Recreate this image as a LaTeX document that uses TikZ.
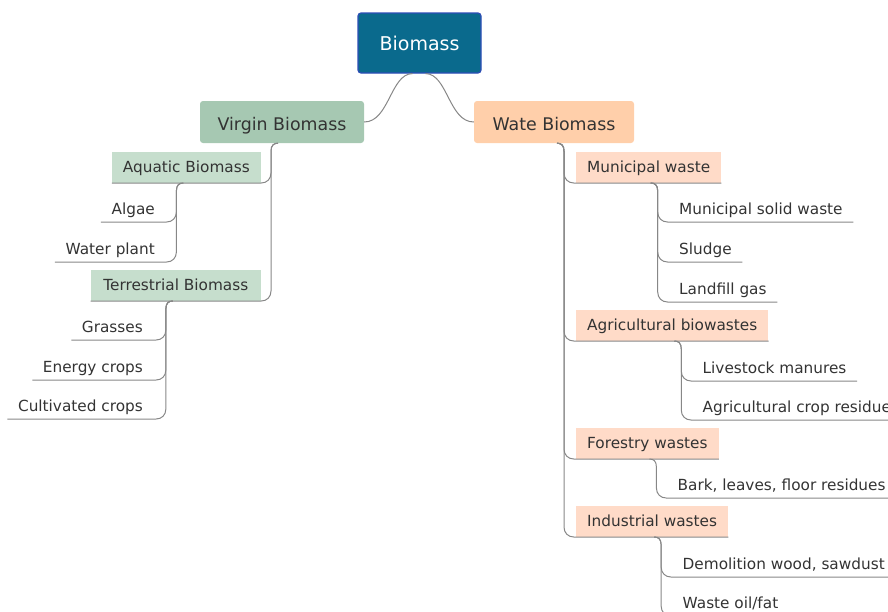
\documentclass[tikz,border=0pt]{standalone}
\usepackage{fontspec}
\setmainfont{DejaVu Sans}
\usetikzlibrary{calc}

\definecolor{rootfill}{HTML}{0A6A8D}
\definecolor{rootedge}{HTML}{2C4DB5}
\definecolor{greenmain}{HTML}{A6C8B2}
\definecolor{greensub}{HTML}{C6DECD}
\definecolor{peachmain}{HTML}{FFCFAA}
\definecolor{peachsub}{HTML}{FFDBC8}
\definecolor{ink}{HTML}{333333}
\definecolor{linegray}{HTML}{878787}

\begin{document}
\begin{tikzpicture}[x=1pt, y=-1pt,
  link/.style={draw=linegray, line width=1pt},
  rootbox/.style={draw=rootedge, line width=1.2pt, fill=rootfill, rounded corners=3pt,
    minimum width=123pt, minimum height=60pt, inner sep=0pt, text=white,
    font=\fontsize{19}{22}\selectfont},
  topic/.style={rounded corners=3pt, minimum height=42pt, inner sep=0pt,
    text height=17pt, text depth=0pt, text=ink,
    font=\fontsize{17.4}{20}\selectfont},
  subtopic/.style={inner xsep=11pt, inner ysep=8pt, text height=13pt, text depth=2pt,
    text=ink, font=\fontsize{15.3}{18}\selectfont},
  leaf/.style={inner xsep=10.5pt, inner ysep=4.5pt, text height=12.5pt, text depth=2.5pt,
    text=ink, font=\fontsize{15.3}{18}\selectfont},
  % branch from a parent's bottom point: short hook, vertical run, rounded turn,
  % then along the child's underline to its far corner
  branch/.style={to path={let \p1=(\tikztostart), \p2=(\tikztotarget), \n1={#1} in
    .. controls ({\x1+0.6*(\n1)}, \y1) and ({\x1+(\n1)}, {\y1-2}) .. ({\x1+(\n1)}, {\y1-8})
    -- ({\x1+(\n1)}, {\y2+10})
    .. controls ({\x1+(\n1)}, {\y2+4}) and ({\x1+1.6*(\n1)}, \y2) .. ({\x1+2.4*(\n1)}, \y2)
    -- (\tikztotarget)}}
]
\useasboundingbox (0,0) rectangle (888,611);
\clip (0,0) rectangle (888,611);

% central topic and main branches
\node[rootbox] (root) at (419.5,43) {Biomass};
\node[topic, fill=greenmain, minimum width=164pt] (virgin) at (282,122) {Virgin Biomass};
\node[topic, fill=peachmain, minimum width=160pt] (wate) at (554,122) {Wate Biomass};

% left side
\node[subtopic, fill=greensub, anchor=south east] (aquatic) at (261,183) {Aquatic Biomass};
\node[subtopic, fill=greensub, inner xsep=12.5pt, anchor=south east] (terrestrial) at (261,301) {Terrestrial Biomass};

\node[leaf, anchor=south east] (algae) at (165.5,222) {Algae};
\node[leaf, anchor=south east] (waterplant) at (165.5,262) {Water plant};
\node[leaf, anchor=south east] (grasses) at (153.5,340) {Grasses};
\node[leaf, anchor=south east] (energy) at (153.5,380) {Energy crops};
\node[leaf, anchor=south east] (cultivated) at (153.5,419) {Cultivated crops};

% right side
\node[subtopic, fill=peachsub, anchor=south west] (municipal) at (576,183) {Municipal waste};
\node[subtopic, fill=peachsub, anchor=south west] (agricultural) at (576,341) {Agricultural biowastes};
\node[subtopic, fill=peachsub, anchor=south west] (forestry) at (576,459) {Forestry wastes};
\node[subtopic, fill=peachsub, anchor=south west] (industrial) at (576,537) {Industrial wastes};

\node[leaf, anchor=south west] (msw) at (668.5,222) {Municipal solid waste};
\node[leaf, anchor=south west] (sludge) at (668.5,262) {Sludge};
\node[leaf, anchor=south west] (landfill) at (668.5,302) {Landfill gas};
\node[leaf, anchor=south west] (livestock) at (692,381) {Livestock manures};
\node[leaf, anchor=south west] (cropres) at (692,420) {Agricultural crop residue};
\node[leaf, anchor=south west] (bark) at (667,498) {Bark, leaves, floor residues};
\node[leaf, anchor=south west] (demolition) at (672,577) {Demolition wood, sawdust};
\node[leaf, anchor=south west] (wasteoil) at (672,616) {Waste oil/fat};

% branch start points
\coordinate (rl) at ($(root.south)+(-7,0)$);
\coordinate (rr) at ($(root.south)+(6,0)$);
\coordinate (vq) at ($(virgin.south)+(-4,0)$);
\coordinate (wq) at ($(wate.south)+(3,0)$);
\coordinate (aq) at ($(aquatic.south)+(-3,0)$);
\coordinate (tq) at ($(terrestrial.south)+(-3,0)$);
\coordinate (mq) at ($(municipal.south)+(2,0)$);
\coordinate (gq) at ($(agricultural.south)+(2,0)$);
\coordinate (fq) at ($(forestry.south)+(2,0)$);
\coordinate (iq) at ($(industrial.south)+(2,0)$);

% root to main branches
\draw[link] (virgin.east) .. controls +(25,0) and +(-22,0) .. (rl);
\draw[link] (rr) .. controls +(22,0) and +(-25,0) .. (wate.west);

% left connectors
\draw[link] (vq) to[branch=-7] (aquatic.south west);
\draw[link] (vq) to[branch=-7] (terrestrial.south west);
\draw[link] (aq) to[branch=-7] (algae.south west);
\draw[link] (aq) to[branch=-7] (waterplant.south west);
\draw[link] (tq) to[branch=-7] (grasses.south west);
\draw[link] (tq) to[branch=-7] (energy.south west);
\draw[link] (tq) to[branch=-7] (cultivated.south west);

% right connectors
\draw[link] (wq) to[branch=7] (municipal.south east);
\draw[link] (wq) to[branch=7] (agricultural.south east);
\draw[link] (wq) to[branch=7] (forestry.south east);
\draw[link] (wq) to[branch=7] (industrial.south east);
\draw[link] (mq) to[branch=7] (msw.south east);
\draw[link] (mq) to[branch=7] (sludge.south east);
\draw[link] (mq) to[branch=7] (landfill.south east);
\draw[link] (gq) to[branch=7] (livestock.south east);
\draw[link] (gq) to[branch=7] (cropres.south east);
\draw[link] (fq) to[branch=7] (bark.south east);
\draw[link] (iq) to[branch=7] (demolition.south east);
\draw[link] (iq) to[branch=7] (wasteoil.south east);
\end{tikzpicture}
\end{document}
